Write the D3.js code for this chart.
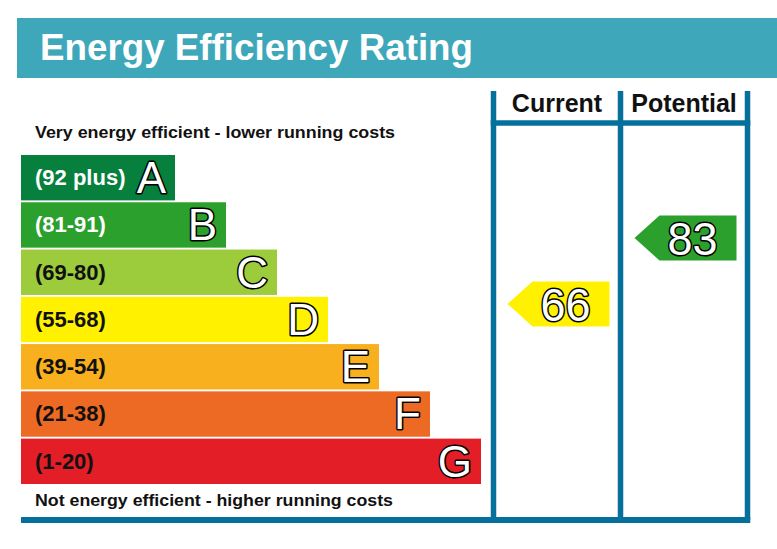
<!DOCTYPE html>
<html>
<head>
<meta charset="utf-8">
<script src="https://cdn.jsdelivr.net/npm/d3@7"></script>
<style>
  body { margin: 0; background: #fff; }
  svg { display: block; font-family: "Liberation Sans", Arial, sans-serif; }
</style>
</head>
<body>
<script>
// rating bands, top (best) to bottom (worst)
const bands = ["A", "B", "C", "D", "E", "F", "G"];
const ranges = ["(92 plus)", "(81-91)", "(69-80)", "(55-68)", "(39-54)", "(21-38)", "(1-20)"];
const bandColors = ["#077f3d", "#2ca02c", "#9ccb3c", "#fff100", "#f8b01e", "#ed6a25", "#e31e26"];
const rangeTextColors = ["#fff", "#fff", "#111", "#111", "#111", "#111", "#111"];

// the two columns on the right and their ratings
const columns = ["Current", "Potential"];
const ratings = [66, 83];

const W = 777, H = 549;
const lineColor = "#05709c";

const svg = d3.select("body").append("svg")
  .attr("width", W)
  .attr("height", H);

// title banner
svg.append("rect")
  .attr("x", 17).attr("y", 18)
  .attr("width", W - 17).attr("height", 60)
  .attr("fill", "#3ea7b9");

svg.append("text")
  .attr("x", 40).attr("y", 60)
  .attr("font-size", 36).attr("font-weight", "bold")
  .attr("fill", "#fff")
  .attr("textLength", 433).attr("lengthAdjust", "spacingAndGlyphs")
  .text("Energy Efficiency Rating");

// scales
const y = d3.scaleBand().domain(bands).range([155, 484]).paddingInner(0.04);
const barRight = d3.scaleLinear().domain([0, bands.length - 1]).range([175, 481]);
const barLeft = 21;
const colX = d3.scaleBand().domain(columns).range([493.5, 747.5]);
const ratingY = d3.scaleLinear().domain([0, 100]).range([560, 172]);

function bandOf(v) {
  const lows = [92, 81, 69, 55, 39, 21, 1];
  return lows.findIndex(l => v >= l);
}

// captions
svg.append("text")
  .attr("x", 35).attr("y", 138)
  .attr("font-size", 16).attr("font-weight", "bold").attr("fill", "#111")
  .attr("textLength", 360).attr("lengthAdjust", "spacingAndGlyphs")
  .text("Very energy efficient - lower running costs");

svg.append("text")
  .attr("x", 35).attr("y", 506)
  .attr("font-size", 16).attr("font-weight", "bold").attr("fill", "#111")
  .attr("textLength", 358).attr("lengthAdjust", "spacingAndGlyphs")
  .text("Not energy efficient - higher running costs");

// bars
const bar = svg.selectAll(".band")
  .data(bands)
  .enter().append("g")
  .attr("class", "band");

bar.append("rect")
  .attr("x", barLeft)
  .attr("y", d => y(d))
  .attr("width", (d, i) => barRight(i) - barLeft)
  .attr("height", y.bandwidth())
  .attr("fill", (d, i) => bandColors[i]);

bar.append("text")
  .attr("x", 35)
  .attr("y", d => y(d) + 30)
  .attr("font-size", 22).attr("font-weight", "bold")
  .attr("fill", (d, i) => rangeTextColors[i])
  .text((d, i) => ranges[i]);

bar.append("text")
  .attr("x", (d, i) => barRight(i) - 9)
  .attr("y", d => y(d) + 38)
  .attr("text-anchor", "end")
  .attr("font-size", 44)
  .attr("fill", "#fff")
  .attr("stroke", "#000").attr("stroke-width", 3)
  .attr("paint-order", "stroke")
  .attr("stroke-linejoin", "round")
  .text(d => d);

// column frame
const frameTop = 91, frameBottom = 520, lw = 5.5;
const edges = [colX.range()[0], colX("Potential"), colX.range()[1]];

svg.selectAll(".vline")
  .data(edges)
  .enter().append("line")
  .attr("class", "vline")
  .attr("x1", d => d).attr("x2", d => d)
  .attr("y1", frameTop).attr("y2", frameBottom)
  .attr("stroke", lineColor).attr("stroke-width", lw);

svg.append("line")
  .attr("x1", edges[0] - lw / 2).attr("x2", edges[2] + lw / 2)
  .attr("y1", 123).attr("y2", 123)
  .attr("stroke", lineColor).attr("stroke-width", lw);

svg.append("line")
  .attr("x1", barLeft).attr("x2", edges[2] + lw / 2)
  .attr("y1", frameBottom).attr("y2", frameBottom)
  .attr("stroke", lineColor).attr("stroke-width", lw + 0.5);

// column headers
svg.selectAll(".colhead")
  .data(columns)
  .enter().append("text")
  .attr("class", "colhead")
  .attr("x", d => colX(d) + colX.bandwidth() / 2)
  .attr("y", 112)
  .attr("text-anchor", "middle")
  .attr("font-size", 25).attr("font-weight", "bold").attr("fill", "#111")
  .text(d => d);

// rating arrows
const arrowH = 45, tipW = 25, arrowW = 102;
const arrow = svg.selectAll(".arrow")
  .data(columns)
  .enter().append("g")
  .attr("class", "arrow");

arrow.append("path")
  .attr("d", (d, i) => {
    const right = colX(d) + colX.bandwidth() - 11;
    const left = right - arrowW;
    const cy = ratingY(ratings[i]);
    return d3.line()([
      [left, cy],
      [left + tipW, cy - arrowH / 2],
      [right, cy - arrowH / 2],
      [right, cy + arrowH / 2],
      [left + tipW, cy + arrowH / 2]
    ]) + "Z";
  })
  .attr("fill", (d, i) => bandColors[bandOf(ratings[i])]);

arrow.append("text")
  .attr("x", d => colX(d) + colX.bandwidth() - 11 - 44)
  .attr("y", (d, i) => ratingY(ratings[i]) + 17)
  .attr("text-anchor", "middle")
  .attr("font-size", 46)
  .attr("fill", "#fff")
  .attr("stroke", "#000").attr("stroke-width", 3)
  .attr("paint-order", "stroke")
  .attr("stroke-linejoin", "round")
  .attr("textLength", 50).attr("lengthAdjust", "spacingAndGlyphs")
  .text((d, i) => ratings[i]);
</script>
</body>
</html>
